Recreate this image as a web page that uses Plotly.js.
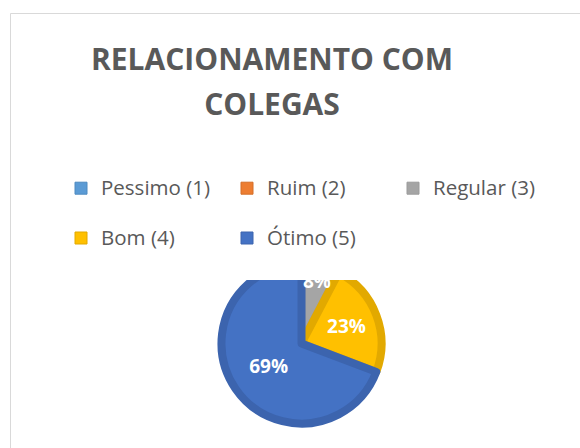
<!DOCTYPE html>
<html>
<head>
<meta charset="utf-8">
<script src="https://cdn.plot.ly/plotly-3.0.1.min.js"></script>
<style>html,body{margin:0;padding:0;background:#fff;}#chart{width:580px;height:448px;}</style>
</head>
<body>
<div id="chart"></div>
<script>
// Data (counts: 8% / 23% / 69%)
const categories = ['Pessimo (1)', 'Ruim (2)', 'Regular (3)', 'Bom (4)', 'Ótimo (5)'];
const counts = [0, 0, 1, 3, 9];
const fillColors = ['#5B9BD5', '#ED7D31', '#A5A5A5', '#FFC000', '#4472C4'];
const edgeColors = ['#4E8AC0', '#D46E28', '#9B9B9B', '#E2A900', '#3C64AE'];
const titleLines = ['RELACIONAMENTO COM', 'COLEGAS'];

const W = 580, H = 448;
const cx = 301.5, cy = 343.5, r = 80;
const domain = { x: [(cx - r) / W, (cx + r) / W], y: [(H - cy - r) / H, (H - cy + r) / H] };
const legendLabels = categories.map(c => '<span style="font-size:20.5px">' + c + '</span><br> ');
const texts = counts.map(v => v > 0 ? '%{percent:.0%}' : '');

// slices with their borders
const slices = {
  type: 'pie',
  labels: legendLabels,
  values: counts,
  sort: false,
  direction: 'clockwise',
  rotation: 0,
  marker: { colors: fillColors, line: { color: edgeColors, width: 8 } },
  textinfo: 'none',
  hoverinfo: 'none',
  domain: domain
};

// percentage labels drawn on top of all slice borders
const labelsLayer = {
  type: 'pie',
  labels: legendLabels,
  values: counts,
  sort: false,
  direction: 'clockwise',
  rotation: 0,
  showlegend: false,
  marker: { colors: categories.map(() => 'rgba(0,0,0,0)'), line: { width: 0 } },
  texttemplate: texts,
  textposition: 'inside',
  insidetextorientation: 'horizontal',
  textfont: { family: 'Open Sans', size: 19, color: '#ffffff', weight: 'bold' },
  hoverinfo: 'none',
  domain: domain
};

const layout = {
  width: W, height: H,
  margin: { l: 0, r: 0, t: 0, b: 0 },
  paper_bgcolor: '#ffffff',
  font: { family: 'Open Sans', color: '#595959' },
  title: {
    text: titleLines.map(t => '<span style="font-size:30px">' + t + '</span>').join('<br>'),
    font: { family: 'Open Sans', size: 34.5, color: '#595959', weight: 'bold' },
    x: 272 / W, xanchor: 'center',
    y: 1 - 70 / H, yanchor: 'top', yref: 'container'
  },
  showlegend: true,
  legend: {
    orientation: 'h',
    x: 61 / W, xanchor: 'left',
    y: 1 - 170 / H, yanchor: 'top',
    font: { family: 'Open Sans', size: 18, color: '#595959' },
    entrywidth: 121, entrywidthmode: 'pixels',
    valign: 'top',
    traceorder: 'normal'
  },
  uniformtext: { mode: 'show', minsize: 19 },
  shapes: [{
    type: 'rect', xref: 'paper', yref: 'paper',
    x0: 10.5 / W, x1: 1.2, y0: -0.2, y1: 1 - 13.5 / H,
    line: { color: '#D9D9D9', width: 1 }, fillcolor: 'rgba(0,0,0,0)', layer: 'below'
  }]
};

Plotly.newPlot('chart', [slices, labelsLayer], layout, { displayModeBar: false, staticPlot: true }).then(gd => {
  gd.querySelectorAll('.legendpoints path').forEach(p => { p.style.strokeWidth = '1px'; });
});
</script>
</body>
</html>
